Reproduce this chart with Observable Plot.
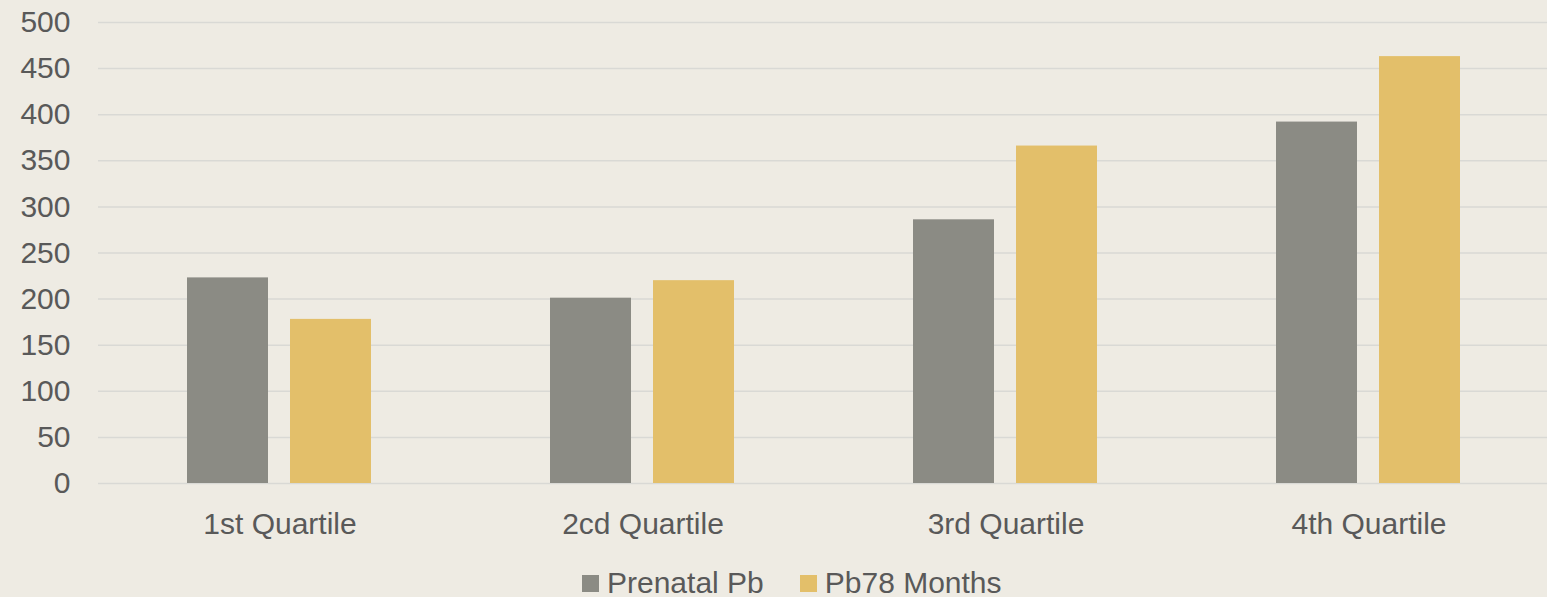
<!DOCTYPE html>
<html><head><meta charset="utf-8">
<script src="https://cdn.jsdelivr.net/npm/d3@7"></script>
<script src="https://cdn.jsdelivr.net/npm/@observablehq/plot@0.6"></script>
<style>
html,body{margin:0;padding:0;background:#eeebe3;overflow:hidden;width:1547px;height:597px}
#chart{position:absolute;left:0;top:0}
#legend{position:absolute;top:568px;left:582px;height:30px;display:flex;align-items:center;font-family:"Liberation Sans",Arial,sans-serif;font-size:30px;line-height:30px;color:#595959}
.item{display:flex;align-items:center;margin-right:36px}
.sw{width:17px;height:17px;margin-right:8px}
</style>
</head><body>
<div id="chart"></div>
<div id="legend"></div>
<script>
const categories = ["1st Quartile", "2cd Quartile", "3rd Quartile", "4th Quartile"];
const series = ["Prenatal Pb", "Pb78 Months"];
const prenatal = [223, 201, 286, 392];
const pb78 = [178, 220, 366, 463];
const yTicks = [0, 50, 100, 150, 200, 250, 300, 350, 400, 450, 500];
const colors = ["#8b8b84", "#e3bf6a"];

const data = [];
categories.forEach((c, i) => {
  data.push({category: c, series: series[0], value: prenatal[i]});
  data.push({category: c, series: series[1], value: pb78[i]});
});

const chart = Plot.plot({
  width: 1547,
  height: 545,
  marginLeft: 96,
  marginRight: -4,
  marginTop: 22,
  marginBottom: 62,
  style: {background: "transparent", fontFamily: "'Liberation Sans', Arial, sans-serif", fontSize: "30px", color: "#595959", overflow: "visible"},
  fx: {domain: categories, padding: 0, label: null, axis: "bottom", tickSize: 0, tickPadding: 29},
  x: {domain: series, axis: null, paddingInner: 0.2115, paddingOuter: 0.856},
  y: {domain: [0, 500], ticks: yTicks, tickSize: 0, tickPadding: 28, label: null},
  color: {domain: series, range: colors},
  marks: [
    Plot.ruleY(yTicks, {stroke: "#d9d9d5", strokeWidth: 1.5}),
    Plot.barY(data, {fx: "category", x: "series", y: "value", fill: "series"})
  ]
});
document.getElementById("chart").appendChild(chart);

const legend = document.getElementById("legend");
series.forEach((s, i) => {
  const item = document.createElement("div");
  item.className = "item";
  const sw = document.createElement("div");
  sw.className = "sw";
  sw.style.background = colors[i];
  const t = document.createElement("span");
  t.textContent = s;
  item.appendChild(sw);
  item.appendChild(t);
  legend.appendChild(item);
});
</script>
</body></html>
